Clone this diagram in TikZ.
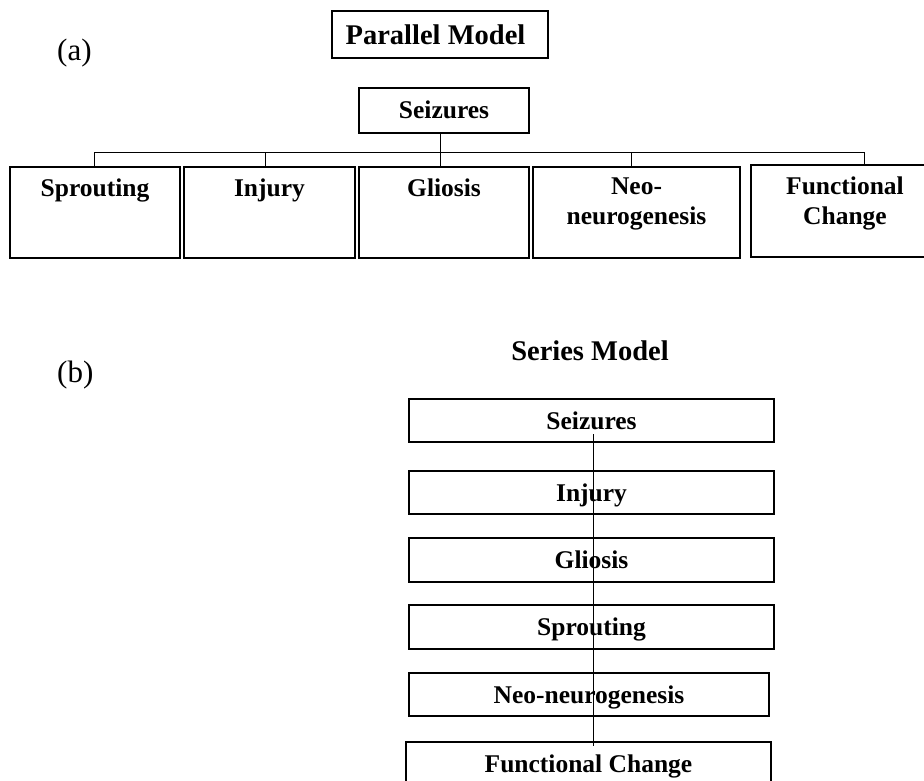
\documentclass[tikz,border=0pt]{standalone}
\usepackage{fontspec}
\setmainfont{Liberation Serif}
\begin{document}
\begin{tikzpicture}[x=1pt,y=-1pt,
  box/.style={draw,line width=1.1pt,inner sep=0pt,minimum height=43pt},
  lbl/.style={font=\fontsize{25.5}{30}\selectfont\bfseries,inner sep=0pt,align=center},
  stext/.style={font=\fontsize{25.5}{30}\selectfont\bfseries,text height=17pt,text depth=0pt},
  conn/.style={line width=0.9pt},
  title/.style={font=\fontsize{28.5}{34}\selectfont\bfseries,inner sep=0pt},
  tag/.style={font=\fontsize{31}{36}\selectfont,inner sep=0pt,anchor=base west}]
\useasboundingbox (0,0) rectangle (924,781);

% ---- (a) Parallel model ----
\node[tag] (ta) at (57,61) {(a)};
\node[box,title,minimum width=216pt,minimum height=47pt,text height=19.3pt,text depth=0pt] (pm) at (440,34.5) {Parallel Model\hspace*{9pt}};
\node[box,stext,minimum width=170pt,minimum height=45pt] (sza) at (444,110.5) {Seizures};

\node[box,minimum width=170pt,minimum height=91pt] (spr) at (95,212.5) {};
\node[box,minimum width=171pt,minimum height=91pt] (inj) at (269.5,212.5) {};
\node[box,minimum width=170pt,minimum height=91pt] (gli) at (444,212.5) {};
\node[box,minimum width=207pt,minimum height=91pt] (neo) at (636.5,212.5) {};
\node[box,minimum width=188pt,minimum height=92pt] (fun) at (845,211) {};

\node[lbl,anchor=north] (sprt) at ([yshift=-12pt]spr.north) {Sprouting};
\node[lbl,anchor=north] (injt) at ([yshift=-12pt]inj.north) {Injury};
\node[lbl,anchor=north] (glit) at ([yshift=-12pt]gli.north) {Gliosis};
\node[lbl,anchor=north] (neot) at ([yshift=-11pt]neo.north) {Neo-\\neurogenesis};
\node[lbl,anchor=north] (funt) at ([yshift=-12pt]fun.north) {Functional\\Change};

\coordinate (barL) at (94,152);
\coordinate (barR) at (864,152);
\draw[conn] (spr.north -| barL) -- (barL) -- (barR) -- (barR |- fun.north);
\draw[conn] ([xshift=-4.5pt]inj.north) -- ([xshift=-4.5pt]inj.north |- barL);
\draw[conn] ([xshift=-5.5pt]neo.north) -- ([xshift=-5.5pt]neo.north |- barL);
\draw[conn] ([xshift=-4pt]sza.south) -- ([xshift=-4pt]gli.north);

% ---- (b) Series model ----
\node[tag] (tb) at (57,382) {(b)};
\node[title,anchor=base] (smt) at (590,360) {Series Model};

\node[box,stext,minimum width=365pt] (s1) at (591.5,420.5) {Seizures};
\node[box,stext,minimum width=365pt] (s2) at (591.5,492.5) {Injury};
\node[box,stext,minimum width=365pt,minimum height=44pt] (s3) at (591.5,560) {Gliosis};
\node[box,stext,minimum width=365pt,minimum height=44pt] (s4) at (591.5,627) {Sprouting};
\node[box,stext,minimum width=360pt] (s5) at (589,694.5) {Neo-neurogenesis};
\node[box,stext,minimum width=365pt] (s6) at (588.5,763.5) {Functional Change};

\draw[conn] ([shift={(1.5,13.5)}]s1.center) -- ([shift={(4.5,5)}]s6.north);
\end{tikzpicture}
\end{document}
